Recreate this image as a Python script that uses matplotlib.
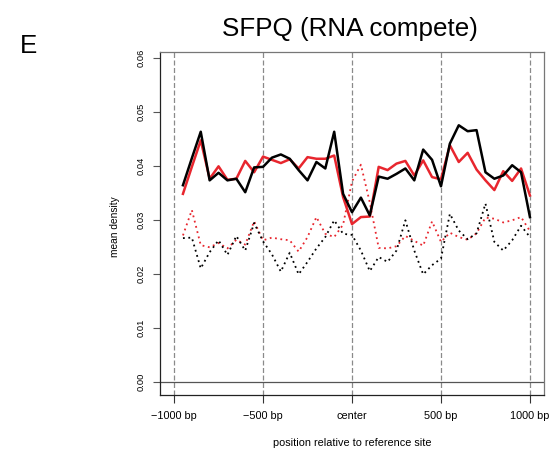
import matplotlib
matplotlib.use("Agg")
import matplotlib.pyplot as plt

plt.rcParams['font.family'] = ['Liberation Sans', 'DejaVu Sans']

# positions (bp) relative to the reference site, 50 bp bins
positions = [-950, -900, -850, -800, -750, -700, -650, -600, -550, -500,
             -450, -400, -350, -300, -250, -200, -150, -100, -50, 0,
             50, 100, 150, 200, 250, 300, 350, 400, 450, 500,
             550, 600, 650, 700, 750, 800, 850, 900, 950, 1000]

# mean density, solid lines
black_solid = [0.0365, 0.0415, 0.0464, 0.0374, 0.0388, 0.0374, 0.0377, 0.0352, 0.0398, 0.0399,
               0.0416, 0.0422, 0.0414, 0.0393, 0.0374, 0.0408, 0.0396, 0.0464, 0.0349, 0.0315,
               0.0342, 0.0309, 0.0381, 0.0377, 0.0386, 0.0396, 0.0374, 0.0431, 0.0412, 0.0363,
               0.0442, 0.0476, 0.0465, 0.0467, 0.0389, 0.0377, 0.0383, 0.0402, 0.0389, 0.0306]
red_solid = [0.0349, 0.0399, 0.0448, 0.0377, 0.0400, 0.0375, 0.0377, 0.0410, 0.0389, 0.0418,
             0.0412, 0.0406, 0.0413, 0.0396, 0.0417, 0.0414, 0.0414, 0.0420, 0.0343, 0.0293,
             0.0306, 0.0307, 0.0399, 0.0393, 0.0405, 0.0410, 0.0383, 0.0411, 0.0380, 0.0376,
             0.0439, 0.0408, 0.0425, 0.0394, 0.0374, 0.0356, 0.0391, 0.0373, 0.0396, 0.0346]

# mean density, dotted (background) lines
black_dotted = [0.0267, 0.0268, 0.0211, 0.0241, 0.0263, 0.0236, 0.0271, 0.0244, 0.0295, 0.0261,
                0.0237, 0.0205, 0.0240, 0.0200, 0.0223, 0.0248, 0.0269, 0.0300, 0.0275, 0.0273,
                0.0244, 0.0206, 0.0232, 0.0223, 0.0244, 0.0300, 0.0244, 0.0200, 0.0217, 0.0229,
                0.0312, 0.0281, 0.0265, 0.0276, 0.0331, 0.0260, 0.0244, 0.0263, 0.0290, 0.0269]
red_dotted = [0.0272, 0.0319, 0.0254, 0.0250, 0.0258, 0.0248, 0.0264, 0.0255, 0.0298, 0.0263,
              0.0268, 0.0265, 0.0263, 0.0242, 0.0269, 0.0306, 0.0275, 0.0269, 0.0292, 0.0372,
              0.0403, 0.0333, 0.0249, 0.0248, 0.0252, 0.0271, 0.0262, 0.0253, 0.0298, 0.0260,
              0.0277, 0.0269, 0.0264, 0.0276, 0.0305, 0.0303, 0.0296, 0.0300, 0.0306, 0.0280]

xticks = [-1000, -500, 0, 500, 1000]
xtick_labels = ['\u22121000 bp', '\u2212500 bp', 'center', '500 bp', '1000 bp']
yticks = [0.00, 0.01, 0.02, 0.03, 0.04, 0.05, 0.06]

RED = '#e8262e'

fig = plt.figure(figsize=(5.52, 4.5), dpi=100)
ax = fig.add_axes([160 / 552, 55 / 450, 384 / 552, 343 / 450])

# reference grid
for xv in xticks:
    ax.axvline(xv, color='#8a8a8a', lw=0.9, linestyle=(0, (4, 2)), zorder=1)
ax.axhline(0, color='#555555', lw=0.9, zorder=1)

# background (dotted) then foreground (solid)
ax.plot(positions, red_dotted, color=RED, lw=1.3, linestyle=(0, (1, 2)), zorder=2)
ax.plot(positions, black_dotted, color='black', lw=1.3, linestyle=(0, (1, 2)), zorder=2)
ax.plot(positions, red_solid, color=RED, lw=1.8, zorder=3)
ax.plot(positions, black_solid, color='black', lw=1.8, zorder=4)

ax.set_xlim(-1079, 1079)
ax.set_ylim(-0.00235, 0.06117)

ax.set_xticks(xticks)
ax.set_xticklabels(xtick_labels, fontsize=7.8)
ax.set_yticks(yticks)
ax.set_yticklabels(['%.2f' % v for v in yticks], fontsize=6.7, rotation=90, va='center')
ax.tick_params(axis='x', length=5.8, width=0.8, pad=6, color='#333333')
ax.tick_params(axis='y', length=5.0, width=0.8, pad=5, color='#555555')

for side in ['left', 'bottom']:
    ax.spines[side].set_color('#222222')
    ax.spines[side].set_linewidth(0.9)
for side in ['top', 'right']:
    ax.spines[side].set_color('#777777')
    ax.spines[side].set_linewidth(0.9)

fig.text(352 / 552, 1 - 443 / 450, 'position relative to reference site',
         fontsize=7.8, ha='center', va='center')
fig.text(115 / 552, 1 - 227 / 450, 'mean density', fontsize=7.3,
         rotation=90, ha='center', va='center')
fig.text(350 / 552, 1 - 29 / 450, 'SFPQ (RNA compete)', fontsize=18.7,
         ha='center', va='center')
fig.text(28 / 552, 1 - 46 / 450, 'E', fontsize=18.7, ha='center', va='center')

fig.savefig('out.png', dpi=100)
